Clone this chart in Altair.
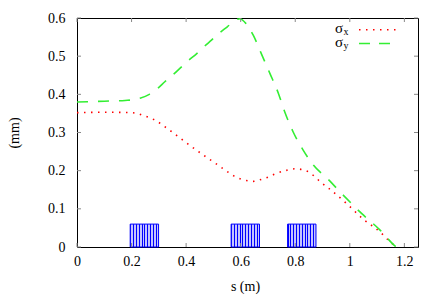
import altair as alt
import pandas as pd

# ---- data ----
s_x = [0.0, 0.1, 0.2, 0.22, 0.25, 0.292, 0.33, 0.377, 0.42, 0.463, 0.512, 0.548, 0.573, 0.6, 0.621,
       0.645, 0.67, 0.7, 0.725, 0.774, 0.8, 0.83, 0.853, 0.872, 0.89, 0.933, 0.994, 1.049, 1.11, 1.147, 1.17]
sig_x = [0.352, 0.353, 0.352, 0.35, 0.343, 0.33, 0.311, 0.286, 0.263, 0.241, 0.217, 0.199, 0.187, 0.178, 0.174,
         0.172, 0.176, 0.183, 0.191, 0.202, 0.205, 0.202, 0.195, 0.184, 0.172, 0.148, 0.11, 0.073, 0.04, 0.014, 0.0]

s_y = [0.0, 0.1, 0.176, 0.21, 0.231, 0.265, 0.298, 0.322, 0.353, 0.38, 0.411, 0.438, 0.466, 0.493, 0.524,
       0.551, 0.58, 0.597, 0.62, 0.646, 0.676, 0.707, 0.738, 0.762, 0.792, 0.829, 0.866, 0.921, 0.969,
       1.043, 1.11, 1.165, 1.17]
sig_y = [0.38, 0.382, 0.384, 0.386, 0.39, 0.4, 0.417, 0.433, 0.452, 0.47, 0.49, 0.506, 0.525, 0.542, 0.562,
         0.577, 0.594, 0.598, 0.585, 0.555, 0.506, 0.455, 0.403, 0.353, 0.302, 0.254, 0.215, 0.177, 0.141,
         0.088, 0.045, 0.003, 0.0]

mag_start = [0.195, 0.565, 0.772]
mag_end = [0.299, 0.669, 0.876]
mag_height = [0.06, 0.06, 0.06]

x_ticks = [0, 0.2, 0.4, 0.6, 0.8, 1.0, 1.2]
y_ticks = [0, 0.1, 0.2, 0.3, 0.4, 0.5, 0.6]

legend_base = ["σ", "σ"]
legend_sub = ["x", "y"]
x_title = "s (m)"
y_title = "(mm)"

# ---- styling ----
W, H = 341, 229
FONT = "Liberation Serif, DejaVu Serif, serif"
RED = "#ff0000"
GREEN = "#33ee33"
BLUE = "#0000ff"

xs = alt.Scale(domain=[0, 1.25], nice=False, zero=False)
ys = alt.Scale(domain=[0, 0.6], nice=False, zero=False)

df_x = pd.DataFrame({"s": s_x, "v": sig_x})
df_y = pd.DataFrame({"s": s_y, "v": sig_y})
df_mag = pd.DataFrame({"a": mag_start, "b": mag_end, "h": mag_height})
df_xt = pd.DataFrame({"t": x_ticks})
df_yt = pd.DataFrame({"t": y_ticks})

x_axis = alt.Axis(values=x_ticks, format="~g", grid=False, ticks=False, tickSize=0, domain=False,
                  labelFont=FONT, labelFontSize=14, labelColor="#000",
                  labelPadding=7, labelOverlap=False, labelFlush=False,
                  title=x_title, titleFont=FONT, titleFontSize=14, titleFontWeight="normal",
                  titleColor="#000", titleX=168, titleY=43, titleBaseline="alphabetic")
y_axis = alt.Axis(values=y_ticks, format="~g", grid=False, ticks=False, tickSize=0, domain=False,
                  labelFont=FONT, labelFontSize=14, labelColor="#000",
                  labelPadding=12, labelOverlap=False, labelFlush=False,
                  title=y_title, titleFont=FONT, titleFontSize=14, titleFontWeight="normal",
                  titleColor="#000", titleX=-63, titleY=H / 2, titleAngle=270,
                  titleAlign="center", titleBaseline="middle")


def X(f):
    return alt.X(f, scale=xs, axis=x_axis, title=x_title)


def Y(f):
    return alt.Y(f, scale=ys, axis=y_axis, title=y_title)


# striped fill for the magnet blocks
stops = []
n = 10
for i in range(n):
    o0 = i / n
    o1 = (i + 0.35) / n
    stops += [alt.GradientStop(offset=o0, color=BLUE), alt.GradientStop(offset=o1, color=BLUE),
              alt.GradientStop(offset=o1, color="#c4c4ff"), alt.GradientStop(offset=(i + 1) / n, color="#c4c4ff")]
stripes = alt.Gradient(gradient="linear", stops=stops, x1=0, x2=1, y1=0, y2=0)

magnets = alt.Chart(df_mag).mark_rect(fill=stripes, stroke=BLUE, strokeWidth=1).encode(
    x=X("a:Q"), x2="b:Q", y=Y("h:Q"), y2=alt.datum(0),
)

line_x = alt.Chart(df_x).mark_line(color=RED, strokeWidth=1.6, strokeDash=[1.5, 5.5],
                                   interpolate="monotone").encode(x=X("s:Q"), y=Y("v:Q"))
line_y = alt.Chart(df_y).mark_line(color=GREEN, strokeWidth=1.6, strokeDash=[11, 10],
                                   interpolate="monotone").encode(x=X("s:Q"), y=Y("v:Q"))

tick_col = "#888888"
t_bottom = alt.Chart(df_xt).mark_rule(color=tick_col).encode(
    x=X("t:Q"), y=alt.value(H), y2=alt.value(H - 4))
t_top = alt.Chart(df_xt).mark_rule(color=tick_col).encode(
    x=X("t:Q"), y=alt.value(0), y2=alt.value(4))
t_left = alt.Chart(df_yt).mark_rule(color=tick_col).encode(
    y=Y("t:Q"), x=alt.value(0), x2=alt.value(4))
t_right = alt.Chart(df_yt).mark_rule(color=tick_col).encode(
    y=Y("t:Q"), x=alt.value(W), x2=alt.value(W - 4))

one = pd.DataFrame({"k": [0]})
legend_layers = []
rows = [(11.7, RED, [1.5, 5.5]), (25.5, GREEN, [11, 9])]
for i, (py, col, dash) in enumerate(rows):
    legend_layers.append(alt.Chart(one).mark_text(text=legend_base[i], font=FONT, fontSize=15,
                                                  align="right", baseline="middle", color="#000").encode(
        x=alt.value(266), y=alt.value(py - 1.5)))
    legend_layers.append(alt.Chart(one).mark_text(text=legend_sub[i], font=FONT, fontSize=10,
                                                  align="left", baseline="middle", color="#000").encode(
        x=alt.value(266.5), y=alt.value(py + 2.5)))
    legend_layers.append(alt.Chart(one).mark_rule(color=col, strokeWidth=1.6, strokeDash=dash).encode(
        x=alt.value(282), x2=alt.value(321), y=alt.value(py)))

chart = alt.layer(magnets, line_x, line_y, t_bottom, t_top, t_left, t_right, *legend_layers).properties(
    width=W, height=H,
    autosize=alt.AutoSizeParams(type="none"),
    padding={"left": 69, "top": 10, "right": 20, "bottom": 48},
    background="white",
).configure(font=FONT).configure_view(stroke="#000", strokeWidth=1).configure_axis(
    labelFont=FONT, titleFont=FONT,
).configure_text(font=FONT)

chart.save("out.html", embed_options={"renderer": "svg", "actions": False})
